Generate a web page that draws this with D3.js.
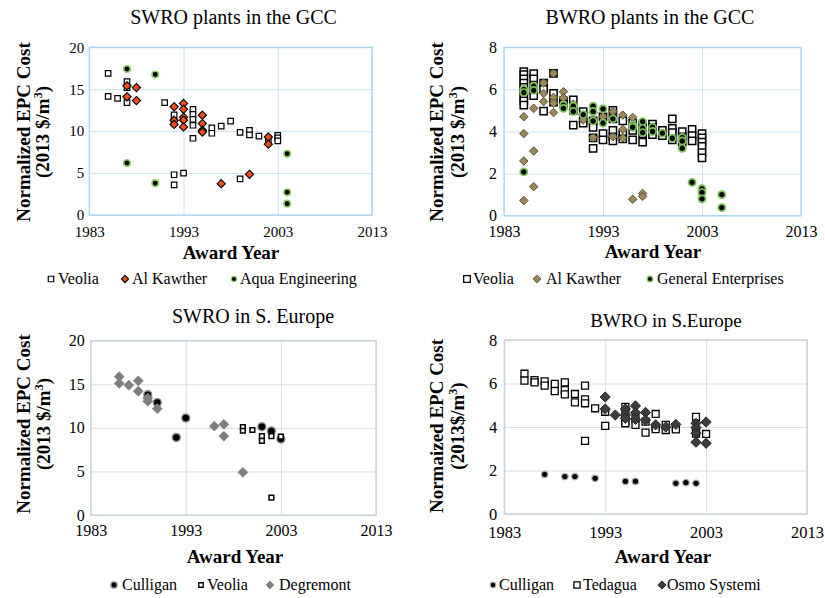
<!DOCTYPE html>
<html>
<head>
<meta charset="utf-8">
<script src="https://cdn.jsdelivr.net/npm/d3@7"></script>
<style>
  body { margin: 0; background: #fff; }
</style>
</head>
<body>
<svg id="chart" width="825" height="598"></svg>
<script>
// ---- shared tick values ----
const yearTicks = [1983, 1993, 2003, 2013];
const swroTicks = [0, 5, 10, 15, 20];
const bwroTicks = [0, 2, 4, 6, 8];

// ---- SWRO plants in the GCC: [award year, normalized EPC cost] ----
const swroGccVeolia = [
  [1985, 16.9], [1985, 14.15], [1986, 13.9], [1987, 15.9], [1987, 15.2], [1987, 13.4],
  [1991, 13.4], [1992, 11.95], [1992, 11.2], [1992, 4.8], [1992, 3.6], [1993, 5.0],
  [1994, 12.6], [1994, 12.0], [1994, 11.4], [1994, 10.7], [1994, 9.15],
  [1996, 10.4], [1996, 9.75], [1997, 10.6], [1998, 11.2], [1999, 9.85], [1999, 4.3],
  [2000, 10.1], [2000, 9.55], [2001, 9.4], [2002, 9.0], [2003, 9.5], [2003, 9.2], [2003, 8.85]
];
const swroGccAlKawther = [
  [1987, 15.4], [1987, 14.1], [1988, 15.2], [1988, 13.65],
  [1992, 12.9], [1992, 11.3], [1992, 10.8],
  [1993, 13.3], [1993, 12.6], [1993, 11.65], [1993, 11.3], [1993, 10.5],
  [1995, 11.9], [1995, 10.9], [1995, 10.1], [1995, 9.9],
  [1997, 3.74], [2000, 4.85], [2002, 9.3], [2002, 8.45]
];
const swroGccAqua = [
  [1987, 17.4], [1987, 6.2], [1990, 16.75], [1990, 3.8], [2004, 7.3], [2004, 2.7], [2004, 1.35]
];

// ---- BWRO plants in the GCC ----
const bwroGccVeolia = [
  [1985, 6.85], [1985, 6.7], [1985, 6.5], [1985, 6.3], [1985, 6.1], [1985, 5.9], [1985, 5.65], [1985, 5.45], [1985, 5.25],
  [1986, 6.75], [1986, 6.5], [1986, 6.2], [1986, 5.95], [1986, 5.7],
  [1987, 6.3], [1987, 6.0], [1987, 4.97], [1988, 6.76], [1988, 5.81], [1988, 5.4],
  [1989, 5.45], [1989, 5.3], [1990, 5.5], [1990, 5.0], [1990, 4.3],
  [1991, 4.95], [1991, 4.6], [1991, 4.4], [1992, 4.5], [1992, 4.2], [1992, 3.7], [1992, 3.2],
  [1993, 4.7], [1993, 3.9], [1993, 3.6],
  [1994, 5.0], [1994, 4.6], [1994, 4.05], [1994, 3.75], [1994, 3.55],
  [1995, 4.5], [1995, 3.9], [1995, 3.65], [1996, 4.4], [1996, 4.05], [1996, 3.6],
  [1997, 4.3], [1997, 3.9], [1997, 3.5], [1998, 4.35], [1998, 4.2], [1998, 3.85],
  [1999, 4.05], [1999, 3.8], [2000, 4.6], [2000, 4.15], [2000, 3.95], [2000, 3.6],
  [2001, 4.0], [2001, 3.75], [2001, 3.5], [2002, 4.1], [2002, 3.8], [2002, 3.55],
  [2003, 3.9], [2003, 3.7], [2003, 3.5], [2003, 3.3], [2003, 3.0], [2003, 2.75]
];
const bwroGccAlKawther = [
  [1985, 4.7], [1985, 3.9], [1985, 2.6], [1985, 0.72],
  [1986, 5.1], [1986, 3.07], [1986, 1.38],
  [1987, 6.3], [1987, 5.81], [1987, 5.42],
  [1988, 6.76], [1988, 5.62], [1988, 5.34], [1988, 4.9],
  [1989, 5.89], [1989, 5.6], [1990, 5.3], [1991, 4.55],
  [1992, 4.9], [1992, 3.72], [1993, 4.7], [1994, 4.95], [1994, 3.75],
  [1995, 4.78], [1995, 4.1], [1995, 3.7], [1996, 4.67], [1996, 0.78],
  [1997, 1.06], [1997, 0.92]
];
const bwroGccGeneral = [
  [1985, 6.0], [1985, 5.85], [1985, 2.08], [1986, 6.15], [1986, 5.95],
  [1989, 5.25], [1989, 5.1], [1990, 5.2], [1990, 4.95], [1991, 4.8],
  [1992, 5.2], [1992, 4.95], [1992, 4.5], [1993, 5.07], [1993, 4.4], [1994, 4.6],
  [1996, 4.3], [1996, 4.2], [1997, 4.47], [1997, 4.15], [1997, 3.95],
  [1998, 4.2], [1998, 4.0], [1999, 3.92], [2000, 3.68],
  [2001, 3.72], [2001, 3.55], [2001, 3.2], [2002, 1.58],
  [2003, 1.28], [2003, 1.1], [2003, 0.8], [2005, 1.0], [2005, 0.38]
];

// ---- SWRO in S. Europe ----
const swroEuCulligan = [
  [1989, 13.8], [1990, 12.9], [1992, 8.9], [1993, 11.13], [2001, 10.13], [2002, 9.64], [2003, 8.72]
];
const swroEuVeolia = [
  [1999, 10.1], [1999, 9.67], [2000, 9.75], [2001, 9.06], [2001, 8.5], [2002, 9.06], [2002, 2.0], [2003, 9.0]
];
const swroEuDegremont = [
  [1986, 15.87], [1986, 15.1], [1987, 14.9], [1988, 15.4], [1988, 14.2],
  [1989, 13.4], [1989, 13.05], [1990, 12.2], [1996, 10.2], [1997, 10.4], [1997, 9.05], [1999, 4.9]
];

// ---- BWRO in S. Europe ----
const bwroEuCulligan = [
  [1987, 1.82], [1989, 1.72], [1990, 1.72], [1992, 1.64], [1995, 1.5], [1996, 1.5],
  [2000, 1.41], [2001, 1.44], [2002, 1.41]
];
const bwroEuTedagua = [
  [1985, 6.45], [1985, 6.13], [1986, 6.16], [1986, 6.05], [1987, 6.1], [1987, 5.9],
  [1988, 5.98], [1988, 5.65], [1989, 6.05], [1989, 5.7], [1989, 5.5],
  [1990, 5.52], [1990, 5.13], [1991, 5.9], [1991, 5.27], [1991, 5.09], [1991, 3.36],
  [1992, 4.86], [1993, 4.7], [1993, 4.05],
  [1995, 4.93], [1995, 4.63], [1995, 4.25], [1995, 4.17], [1996, 4.4], [1996, 4.1],
  [1997, 4.25], [1997, 3.74], [1998, 4.6], [1998, 4.0], [1998, 3.9],
  [1999, 4.1], [1999, 3.86], [2000, 4.0], [2000, 3.89],
  [2002, 4.47], [2002, 3.86], [2002, 3.7], [2003, 3.68]
];
const bwroEuOsmo = [
  [1993, 5.38], [1993, 4.83], [1994, 4.55], [1995, 4.83], [1995, 4.55], [1995, 4.4],
  [1996, 4.97], [1996, 4.66], [1996, 4.35], [1997, 4.67], [1997, 4.32],
  [1998, 4.1], [1999, 4.0], [2000, 4.12],
  [2002, 4.17], [2002, 3.97], [2002, 3.71], [2002, 3.3], [2003, 4.23], [2003, 3.25]
];

const SERIF = '"Liberation Serif", "Times New Roman", Times, serif';
const svg = d3.select("#chart").style("font-family", SERIF);
const defs = svg.append("defs");
defs.append("filter").attr("id", "soft")
  .attr("x", "-50%").attr("y", "-50%").attr("width", "200%").attr("height", "200%")
  .append("feGaussianBlur").attr("stdDeviation", 0.7);

// diamond as a rotated square; size = squared side of the unrotated square
const diamondType = {
  draw(ctx, size) {
    const r = Math.sqrt(size / 2);
    ctx.moveTo(0, -r); ctx.lineTo(r, 0); ctx.lineTo(0, r); ctx.lineTo(-r, 0); ctx.closePath();
  }
};

// marker styles
const styles = {
  squareSmall: { type: d3.symbolSquare, size: 30, fill: "#fff", stroke: "#000", sw: 1.2 },
  squareBig:   { type: d3.symbolSquare, size: 52, fill: "#fff", stroke: "#000", sw: 1.5 },
  squareMid:   { type: d3.symbolSquare, size: 48, fill: "#fff", stroke: "#000", sw: 1.3 },
  squareTiny:  { type: d3.symbolSquare, size: 22, fill: "#fff", stroke: "#000", sw: 1.5 },
  redDiamond:  { type: diamondType, size: 34, fill: "#f04f1c", stroke: "#000", sw: 1.1 },
  tanDiamond:  { type: diamondType, size: 36, fill: "#9a8858", stroke: "#5d5132", sw: 1, blur: true },
  grayDiamond: { type: diamondType, size: 48, fill: "#7d7d7d", stroke: "#8a8a8a", sw: 1, blur: true },
  darkDiamond: { type: diamondType, size: 52, fill: "#3d3d3d", stroke: "#262626", sw: 1 },
  greenDot:    { type: d3.symbolCircle, size: 34, fill: "#000", stroke: "#8fd06b", sw: 1.6 },
  greenDotBig: { type: d3.symbolCircle, size: 40, fill: "#000", stroke: "#7cc35a", sw: 1.7 },
  grayDot:     { type: d3.symbolCircle, size: 50, fill: "#000", stroke: "#8c8c8c", sw: 1.4, blur: true },
  grayDotSm:   { type: d3.symbolCircle, size: 34, fill: "#000", stroke: "#b0b0b0", sw: 1.2 }
};

function addText(g, x, y, size, str, opts = {}) {
  return g.append("text").attr("x", x).attr("y", y)
    .attr("text-anchor", opts.anchor || "start")
    .style("font-family", SERIF).style("font-size", size + "px")
    .style("font-weight", opts.bold ? "bold" : "normal").style("fill", "#000")
    .text(str);
}

function drawMarks(g, data, st, x, y) {
  const sym = d3.symbol().type(st.type).size(st.size);
  g.append("g")
    .attr("filter", st.blur ? "url(#soft)" : null)
    .selectAll("path").data(data).join("path")
    .attr("d", sym)
    .attr("transform", d => `translate(${x(d[0])},${y(d[1])})`)
    .attr("fill", st.fill).attr("stroke", st.stroke).attr("stroke-width", st.sw);
}

function drawPanel(cfg) {
  const x = d3.scaleLinear().domain([1983, 2013]).range([cfg.left, cfg.right]);
  const y = d3.scaleLinear().domain([0, cfg.yMax]).range([cfg.bottom, cfg.top]);
  const g = svg.append("g");
  const w = cfg.right - cfg.left, h = cfg.bottom - cfg.top;

  // vertical gridlines + year labels
  const xa = g.append("g").attr("transform", `translate(0,${cfg.bottom})`)
    .call(d3.axisBottom(x).tickValues(yearTicks).tickFormat(d3.format("d"))
      .tickSize(-h).tickPadding(cfg.xPad));
  // horizontal gridlines + cost labels
  const ya = g.append("g").attr("transform", `translate(${cfg.left},0)`)
    .call(d3.axisLeft(y).tickValues(cfg.yTicks).tickSize(-w).tickPadding(cfg.yPad));
  [xa, ya].forEach(a => {
    a.attr("font-family", null).attr("font-size", null);
    a.select(".domain").remove();
    a.selectAll("line").attr("stroke", cfg.grid).attr("stroke-width", 1);
    a.selectAll("text").style("font-family", SERIF)
      .style("font-size", cfg.tickFont + "px").style("fill", "#000");
  });
  // plot frame
  g.append("rect").attr("x", cfg.left).attr("y", cfg.top).attr("width", w).attr("height", h)
    .attr("fill", "none").attr("stroke", cfg.frame).attr("stroke-width", 1.3);

  // markers
  cfg.series.forEach(s => drawMarks(g, s.data, styles[s.style], x, y));

  // titles
  addText(g, cfg.titleX, cfg.titleY, cfg.titleFont, cfg.title, { anchor: "middle" });
  addText(g, cfg.xTitleX, cfg.xTitleY, 19, "Award Year", { anchor: "middle", bold: true });

  const yt = g.append("text").attr("transform", `translate(${cfg.yTitleX},${cfg.yTitleY}) rotate(-90)`)
    .attr("text-anchor", "middle")
    .style("font-family", SERIF).style("font-size", "19px").style("font-weight", "bold").style("fill", "#000");
  yt.append("tspan").attr("x", 0).attr("y", 0).text(cfg.yTitle1);
  yt.append("tspan").attr("x", 0).attr("y", cfg.yTitleGap).text(cfg.yTitle2);
  yt.append("tspan").attr("dy", -7).style("font-size", "12px").text("3");
  yt.append("tspan").attr("dy", 7).text(")");

  // legend
  cfg.legend.forEach(item => {
    const st = Object.assign({}, styles[item.style], { size: item.size });
    g.append("path")
      .attr("d", d3.symbol().type(st.type).size(st.size))
      .attr("transform", `translate(${item.x},${cfg.legendY - 5})`)
      .attr("fill", st.fill).attr("stroke", st.stroke).attr("stroke-width", Math.min(st.sw, 1.3))
      .attr("filter", st.blur ? "url(#soft)" : null);
    addText(g, item.x + item.gap, cfg.legendY, 16, item.label);
  });
}

drawPanel({
  left: 89.3, right: 372, top: 47.3, bottom: 215, yMax: 20, yTicks: swroTicks,
  grid: "#c8e3f6", frame: "#a9d4f0", xPad: 11, yPad: 5, tickFont: 15,
  title: "SWRO plants in the GCC", titleFont: 20, titleX: 233.5, titleY: 24,
  xTitleX: 231, xTitleY: 259,
  yTitle1: "Normalized EPC Cost", yTitle2: "(2013 $/m", yTitleX: 30, yTitleY: 132, yTitleGap: 19,
  series: [
    { data: swroGccVeolia, style: "squareSmall" },
    { data: swroGccAlKawther, style: "redDiamond" },
    { data: swroGccAqua, style: "greenDot" }
  ],
  legendY: 284,
  legend: [
    { label: "Veolia", x: 51, gap: 7, style: "squareSmall", size: 30 },
    { label: "Al Kawther", x: 125, gap: 7, style: "redDiamond", size: 26 },
    { label: "Aqua Engineering", x: 234, gap: 6, style: "greenDot", size: 22 }
  ]
});

drawPanel({
  left: 504, right: 801, top: 47.3, bottom: 215.7, yMax: 8, yTicks: bwroTicks,
  grid: "#c8e3f6", frame: "#a9d4f0", xPad: 10, yPad: 7, tickFont: 16,
  title: "BWRO plants in the GCC", titleFont: 20, titleX: 650, titleY: 24,
  xTitleX: 653, xTitleY: 258,
  yTitle1: "Normalized EPC Cost", yTitle2: "(2013 $/m", yTitleX: 443, yTitleY: 132, yTitleGap: 21,
  series: [
    { data: bwroGccVeolia, style: "squareBig" },
    { data: bwroGccAlKawther, style: "tanDiamond" },
    { data: bwroGccGeneral, style: "greenDotBig" }
  ],
  legendY: 284,
  legend: [
    { label: "Veolia", x: 467, gap: 6, style: "squareBig", size: 44 },
    { label: "Al Kawther", x: 537, gap: 9, style: "tanDiamond", size: 30 },
    { label: "General Enterprises", x: 650, gap: 7, style: "greenDotBig", size: 24 }
  ]
});

drawPanel({
  left: 90.7, right: 376, top: 340.7, bottom: 515, yMax: 20, yTicks: swroTicks,
  grid: "#d6dee6", frame: "#c6d1db", xPad: 10, yPad: 6, tickFont: 16,
  title: "SWRO in S. Europe", titleFont: 20, titleX: 253, titleY: 323,
  xTitleX: 235, xTitleY: 563,
  yTitle1: "Normalized EPC Cost", yTitle2: "(2013 $/m", yTitleX: 30, yTitleY: 424, yTitleGap: 20,
  series: [
    { data: swroEuCulligan, style: "grayDot" },
    { data: swroEuVeolia, style: "squareTiny" },
    { data: swroEuDegremont, style: "grayDiamond" }
  ],
  legendY: 590,
  legend: [
    { label: "Culligan", x: 114, gap: 8, style: "grayDot", size: 30 },
    { label: "Veolia", x: 201, gap: 6, style: "squareTiny", size: 20 },
    { label: "Degremont", x: 270, gap: 9, style: "grayDiamond", size: 30 }
  ]
});

drawPanel({
  left: 504.3, right: 807, top: 340, bottom: 514, yMax: 8, yTicks: bwroTicks,
  grid: "#d6dee6", frame: "#c6d1db", xPad: 12, yPad: 7, tickFont: 16.5,
  title: "BWRO in S.Europe", titleFont: 19, titleX: 666, titleY: 327,
  xTitleX: 663, xTitleY: 563,
  yTitle1: "Normaized  EPC Cost", yTitle2: "(2013$/m", yTitleX: 443, yTitleY: 426, yTitleGap: 21,
  series: [
    { data: bwroEuCulligan, style: "grayDotSm" },
    { data: bwroEuTedagua, style: "squareMid" },
    { data: bwroEuOsmo, style: "darkDiamond" }
  ],
  legendY: 590,
  legend: [
    { label: "Culligan", x: 493, gap: 6, style: "grayDotSm", size: 26 },
    { label: "Tedagua", x: 577, gap: 6, style: "squareMid", size: 38 },
    { label: "Osmo Systemi", x: 662, gap: 5, style: "darkDiamond", size: 34 }
  ]
});
</script>
</body>
</html>
